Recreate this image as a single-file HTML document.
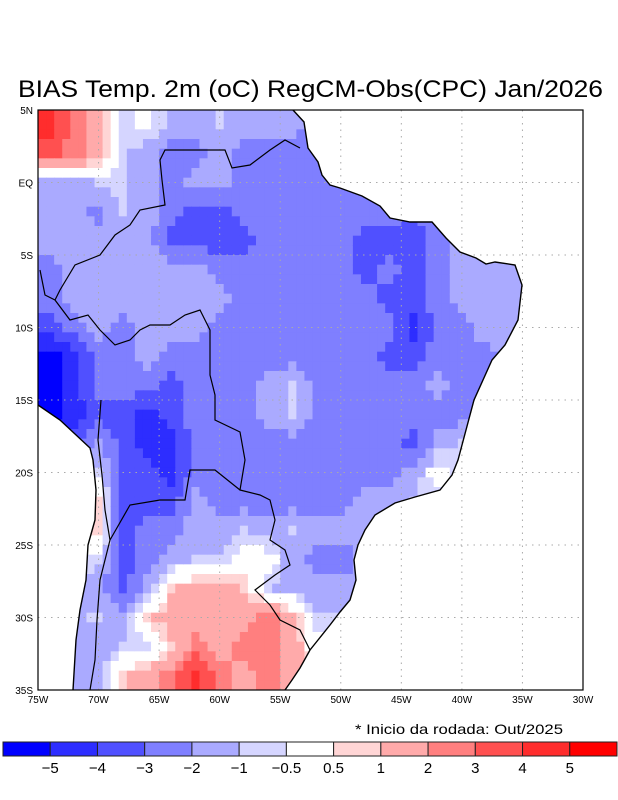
<!DOCTYPE html>
<html><head><meta charset="utf-8"><style>
html,body{margin:0;padding:0;background:#fff;}
svg{display:block;font-family:"Liberation Sans",sans-serif;}
</style></head><body>
<svg id="chart" width="618" height="800" viewBox="0 0 618 800" xmlns="http://www.w3.org/2000/svg">
<defs><clipPath id="land"><path id="landPath" d=""/></clipPath></defs>
<text x="18" y="97" font-size="24" textLength="585" lengthAdjust="spacingAndGlyphs">BIAS Temp. 2m (oC) RegCM-Obs(CPC) Jan/2026</text>
<g id="cells" clip-path="url(#land)"></g>
<g id="grid"></g>
<path id="coast" fill="none" stroke="#000" stroke-width="1.4"/>
<path id="border" fill="none" stroke="#000" stroke-width="1.2"/>
<rect x="38" y="110" width="545" height="580" fill="none" stroke="#000" stroke-width="1.2"/>
<g id="axes" font-size="10"></g>
<text x="355" y="734" font-size="14" textLength="208" lengthAdjust="spacingAndGlyphs">* Inicio da rodada: Out/2025</text>
<g id="colorbar"></g>
</svg>
<script>
const N = null;
// bias values (°C) on a 2° grid; rows from 4N to 34S, columns from 74W to 36W
const lonCenters = [-74,-72,-70,-68,-66,-64,-62,-60,-58,-56,-54,-52,-50,-48,-46,-44,-42,-40,-38,-36];
const latCenters = [4,2,0,-2,-4,-6,-8,-10,-12,-14,-16,-18,-20,-22,-24,-26,-28,-30,-32,-34];
const row00 = [4.5,2.5,1.5,-0.8,0,-1.5,-1.5,-0.8,-1.5,-1.5,-1.5,-2.5,N,N,N,N,N,N,N,N];
const row01 = [3.5,2.5,1.5,-0.8,-1.5,-2.5,-2.5,-1.5,-2.5,-2.5,-2.5,-2.5,N,N,N,N,N,N,N,N];
const row02 = [-1.5,-1.5,-0.8,-0.8,-1.5,-2.5,-1.5,-1.5,-2.5,-2.5,-2.5,-2.5,-2.5,N,N,N,N,N,N,N];
const row03 = [-1.5,-1.5,-2.5,-0.8,-1.5,-2.5,-3.5,-3.5,-2.5,-2.5,-2.5,-2.5,-2.5,-2.5,-2.5,N,N,N,N,N];
const row04 = [-1.5,-1.5,-1.5,-1.5,-1.5,-3.5,-3.5,-3.5,-3.5,-2.5,-2.5,-2.5,-2.5,-3.5,-3.5,-3.5,-2.5,-1.5,N,N];
const row05 = [-2.5,-1.5,-1.5,-1.5,-1.5,-1.5,-1.5,-2.5,-2.5,-2.5,-2.5,-2.5,-2.5,-3.5,-2.5,-3.5,-2.5,-1.5,-1.5,-1.5];
const row06 = [-2.5,-1.5,-1.5,-1.5,-1.5,-1.5,-1.5,-1.5,-2.5,-2.5,-2.5,-2.5,-2.5,-2.5,-3.5,-3.5,-2.5,-1.5,-1.5,-1.5];
const row07 = [-3.5,-2.5,-1.5,-2.5,-1.5,-1.5,-1.5,-2.5,-2.5,-2.5,-2.5,-2.5,-2.5,-2.5,-2.5,-4.5,-2.5,-2.5,-1.5,N];
const row08 = [-5.5,-4.5,-2.5,-2.5,-1.5,-2.5,-2.5,-2.5,-2.5,-2.5,-2.5,-2.5,-2.5,-2.5,-3.5,-3.5,-2.5,-2.5,N,N];
const row09 = [-5.5,-4.5,-2.5,-2.5,-2.5,-3.5,-2.5,-2.5,-2.5,-1.5,-0.8,-2.5,-2.5,-2.5,-2.5,-2.5,-1.5,-2.5,N,N];
const row10 = [-5.5,-4.5,-3.5,-3.5,-4.5,-3.5,-2.5,-2.5,-2.5,-1.5,-0.8,-2.5,-2.5,-2.5,-2.5,-2.5,-2.5,-2.5,N,N];
const row11 = [N,N,-1.5,-3.5,-4.5,-4.5,-2.5,-2.5,-2.5,-2.5,-2.5,-2.5,-2.5,-2.5,-2.5,-3.5,-1.5,-0.8,N,N];
const row12 = [N,N,-0.8,-3.5,-3.5,-4.5,-2.5,-2.5,-2.5,-2.5,-2.5,-2.5,-2.5,-2.5,-2.5,-1.5,0,N,N,N];
const row13 = [N,N,0.8,-3.5,-3.5,-3.5,-1.5,-2.5,-2.5,-2.5,-2.5,-2.5,-2.5,-1.5,-1.5,-0.8,-0.8,N,N,N];
const row14 = [N,N,0.8,-3.5,-2.5,-2.5,-1.5,-1.5,-0.8,-1.5,-0.8,-1.5,-1.5,-1.5,N,N,N,N,N,N];
const row15 = [N,N,-0.8,-3.5,-2.5,-1.5,-0.8,-0.8,0,0,-1.5,-2.5,-2.5,N,N,N,N,N,N,N];
const row16 = [N,N,-1.5,-3.5,-1.5,0.8,1.5,1.5,0.8,-0.8,-1.5,-1.5,-1.5,N,N,N,N,N,N,N];
const row17 = [N,N,-0.8,-1.5,0.8,1.5,1.5,1.5,1.5,2.5,1.5,-0.8,N,N,N,N,N,N,N,N];
const row18 = [N,-1.5,-1.5,-0.8,-0.8,0.8,2.5,1.5,2.5,2.5,1.5,0,N,N,N,N,N,N,N,N];
const row19 = [N,-1.5,-1.5,0.8,1.5,2.5,4.5,2.5,1.5,2.5,1.5,N,N,N,N,N,N,N,N,N];
const biasRows = [row00,row01,row02,row03,row04,row05,row06,row07,row08,row09,row10,row11,row12,row13,row14,row15,row16,row17,row18,row19];
const levels = [-5,-4,-3,-2,-1,-0.5,0.5,1,2,3,4,5];
const levelLabels = ["-5","-4","-3","-2","-1","-0.5","0.5","1","2","3","4","5"];
const palette = ["#0000ff","#2d2dff","#5050ff","#7f7fff","#aaaaff","#d5d5ff","#ffffff","#ffd5d5","#ffaaaa","#ff7f7f","#ff5050","#ff2d2d","#ff0000"];
const lonTicks = [-75,-70,-65,-60,-55,-50,-45,-40,-35,-30];
const lonTickLabels = ["75W","70W","65W","60W","55W","50W","45W","40W","35W","30W"];
const latTicks = [5,0,-5,-10,-15,-20,-25,-30,-35];
const latTickLabels = ["5N","EQ","5S","10S","15S","20S","25S","30S","35S"];

const NS = "http://www.w3.org/2000/svg";
const X0=38,X1=583,Y0=110,Y1=690;
const xScale = lon => X0 + (lon+75)/45*(X1-X0);
const yScale = lat => Y0 + (5-lat)/40*(Y1-Y0);
function colorFor(v){let k=0;while(k<levels.length && v>levels[k])k++;return palette[k];}
function mk(tag,attrs,parent){const e=document.createElementNS(NS,tag);for(const a in attrs)e.setAttribute(a,attrs[a]);parent.appendChild(e);return e;}
function raw(r,c){r=Math.max(0,Math.min(latCenters.length-1,r));c=Math.max(0,Math.min(lonCenters.length-1,c));return biasRows[r][c];}
function val(r,c){
  const v=raw(r,c); if(v!==null) return v;
  let s=0,n=0;
  for(let dr=-1;dr<=1;dr++)for(let dc=-1;dc<=1;dc++){const w=raw(r+dr,c+dc);if(w!==null){s+=w;n++;}}
  if(n) return s/n;
  for(let dr=-2;dr<=2;dr++)for(let dc=-2;dc<=2;dc++){const w=raw(r+dr,c+dc);if(w!==null){s+=w;n++;}}
  return n? s/n : 0;
}

// land mask (geography)
const landPts=[[38,110],[293,110],[304,122],[308,148],[318,162],[322,175],[330,185],[340,188],[362,196],[380,206],[390,218],[410,222],[432,222],[446,238],[460,252],[476,258],[486,264],[495,262],[515,265],[522,285],[518,320],[505,345],[492,360],[483,380],[474,400],[470,415],[466,430],[462,445],[458,460],[452,475],[440,490],[415,497],[395,503],[375,515],[365,530],[358,545],[354,560],[356,580],[350,600],[340,612],[330,625],[318,640],[310,650],[300,668],[292,680],[285,690],[73,690],[76,640],[80,610],[86,580],[88,545],[95,520],[96,490],[93,460],[90,448],[60,420],[38,405]];
document.getElementById('landPath').setAttribute('d','M'+landPts.map(p=>p.join(',')).join('L')+'Z');
document.getElementById('coast').setAttribute('d','M'+landPts.slice(1,46).map(p=>p.join(',')).join('L')+' M'+landPts.slice(46).map(p=>p.join(',')).join('L'));
document.getElementById('border').setAttribute('d','M300,148L285,140L270,150L250,165L232,168L225,150L205,150L180,150L165,150L160,160L162,180L165,205L140,210L130,225L115,235L100,255L75,265L60,290L55,300L70,320L88,315L100,330L115,345L130,340L140,330L150,325L170,325L185,315L200,310L210,330L210,375L215,395L215,420L240,432L245,460L240,490L260,495L270,500L275,520L270,540L285,550L290,565L275,575L255,590L270,605L280,620L300,630L310,650 M101,400L98,440L102,475L105,510L110,540L100,580L97,620L95,660L90,690 M240,490L215,470L190,470L185,500L160,500L130,505L110,540 M55,300L45,295L40,270');

// bias field: bilinear interpolation between grid centers
const cells=document.getElementById('cells');
const SUB=3, dLon=2, dLat=2;
for(let r=0;r<latCenters.length;r++){for(let c=0;c<lonCenters.length;c++){
  for(let i=0;i<SUB;i++){for(let j=0;j<SUB;j++){
    const lon=lonCenters[c]-dLon/2+(j+0.5)*dLon/SUB, lat=latCenters[r]+dLat/2-(i+0.5)*dLat/SUB;
    const fc=(lon-lonCenters[0])/dLon, fr=(latCenters[0]-lat)/dLat;
    const c0=Math.floor(fc), r0=Math.floor(fr), tx=fc-c0, ty=fr-r0;
    const v=(1-ty)*((1-tx)*val(r0,c0)+tx*val(r0,c0+1))+ty*((1-tx)*val(r0+1,c0)+tx*val(r0+1,c0+1));
    const xa=xScale(lon-dLon/SUB/2), xb=xScale(lon+dLon/SUB/2), ya=yScale(lat+dLat/SUB/2), yb=yScale(lat-dLat/SUB/2);
    const rc=mk('rect',{x:xa.toFixed(2),y:ya.toFixed(2),width:(xb-xa+0.6).toFixed(2),height:(yb-ya+0.6).toFixed(2),fill:colorFor(v)},cells);
    
    
  }}
}}

// grid + axes
const grid=document.getElementById('grid'), axes=document.getElementById('axes');
lonTicks.forEach((lon,i)=>{
  const x=xScale(lon);
  if(i>0&&i<lonTicks.length-1){const l=mk('line',{x1:x,x2:x,y1:Y0,y2:Y1,stroke:'#aaa','stroke-dasharray':'1.5,5'},grid);}
  const t=mk('text',{x:x,y:703,'text-anchor':'middle'},axes);t.textContent=lonTickLabels[i];
  
  
});
latTicks.forEach((lat,i)=>{
  const y=yScale(lat);
  if(i>0&&i<latTicks.length-1){const l=mk('line',{x1:X0,x2:X1,y1:y,y2:y,stroke:'#aaa','stroke-dasharray':'1.5,5'},grid);}
  const t=mk('text',{x:33,y:y+4,'text-anchor':'end'},axes);t.textContent=latTickLabels[i];
  
  
});

// colorbar
const cb=document.getElementById('colorbar');
const CB0=3, CBW=(617-3)/palette.length;
palette.forEach((col,k)=>{
  const r=mk('rect',{x:CB0+k*CBW,y:742,width:CBW,height:14,fill:col,stroke:'#222','stroke-width':1},cb);
  
  
});
levels.forEach((lv,k)=>{
  const t=mk('text',{x:CB0+(k+1)*CBW,y:773,'text-anchor':'middle','font-size':15},cb);
  t.textContent=levelLabels[k].replace('-','\u2212');
  
  
});
</script>
</body></html>
